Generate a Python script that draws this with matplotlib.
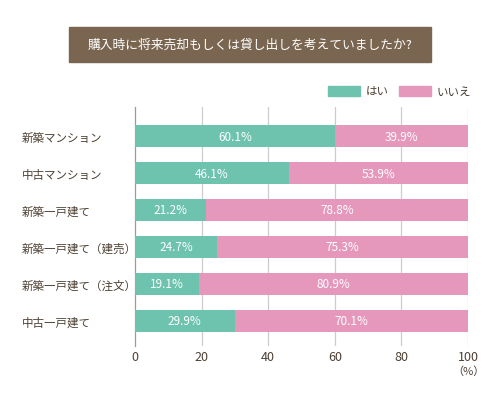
import matplotlib.pyplot as plt
from matplotlib.patches import Rectangle

plt.rcParams['font.family'] = ['Noto Sans CJK JP', 'DejaVu Sans']

title = '購入時に将来売却もしくは貸し出しを考えていましたか?'
categories = ['新築マンション', '中古マンション', '新築一戸建て',
              '新築一戸建て（建売）', '新築一戸建て（注文）', '中古一戸建て']
yes = [60.1, 46.1, 21.2, 24.7, 19.1, 29.9]
no = [39.9, 53.9, 78.8, 75.3, 80.9, 70.1]
series_names = ['はい', 'いいえ']

teal = '#6dc3ae'
pink = '#e598bc'
brown = '#7a6650'
txt = '#4d4033'

W, H = 500, 402
fig = plt.figure(figsize=(5, 4.02), dpi=100)
ax = fig.add_axes([135 / W, 1 - 347 / H, (468 - 135) / W, (347 - 108) / H])

rows = list(range(len(categories)))
ax.barh(rows, yes, height=0.57, color=teal, zorder=3)
ax.barh(rows, no, left=yes, height=0.57, color=pink, zorder=3)

for i in rows:
    ax.text(yes[i] / 2, i, f'{yes[i]}%', ha='center', va='center',
            color='white', fontsize=8.5, zorder=4)
    ax.text(yes[i] + no[i] / 2, i, f'{no[i]}%', ha='center', va='center',
            color='white', fontsize=8.5, zorder=4)

ax.set_xlim(0, 100)
ax.set_ylim(5.676, -0.784)
for x in [20, 40, 60, 80, 100]:
    ax.axvline(x, color='#cccccc', linewidth=0.9, zorder=1)

for s in ['top', 'right', 'bottom']:
    ax.spines[s].set_visible(False)
ax.spines['left'].set_color('#a09a94')
ax.spines['left'].set_linewidth(0.9)

ax.set_yticks(rows)
ax.set_yticklabels(categories, fontsize=8.3, color=txt)
# left-aligned labels starting near x=22px
ax.tick_params(axis='y', length=0, pad=(135 - 22) / 100 * 72)
for lbl in ax.get_yticklabels():
    lbl.set_horizontalalignment('left')
ax.set_xticks([0, 20, 40, 60, 80, 100])
ax.tick_params(axis='x', length=0, pad=3, labelsize=9, labelcolor=txt)

# title box
fig.patches.append(Rectangle((69 / W, 1 - 63 / H), (431 - 69) / W, 35 / H,
                             transform=fig.transFigure, color=brown,
                             zorder=0))
fig.text(250 / W, 1 - 45.5 / H, title, ha='center', va='center',
         color='white', fontsize=9.2)

# legend
for x0, c, name in [(328, teal, series_names[0]), (399, pink, series_names[1])]:
    fig.patches.append(Rectangle((x0 / W, 1 - 97 / H), 32 / W, 10 / H,
                                 transform=fig.transFigure, color=c))
    fig.text((x0 + 38) / W, 1 - 92 / H, name, ha='left', va='center',
             color=txt, fontsize=8.3)

fig.text(468 / W, 1 - 372 / H, '（%）', ha='center', va='center',
         color=txt, fontsize=8)

fig.savefig('out.png', dpi=100, facecolor='white')
